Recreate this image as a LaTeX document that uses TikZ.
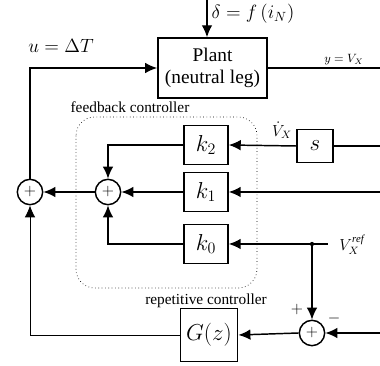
\documentclass[tikz,border=0pt]{standalone}
\usepackage{fontspec}
\setmainfont{Liberation Serif}
\usetikzlibrary{arrows.meta,calc,positioning}

\begin{document}
\begin{tikzpicture}[x=0.75pt, y=-0.75pt, line width=1.1pt, >={Latex[length=9pt,width=8pt]},
    blk/.style={draw,rectangle,line width=1.1pt,inner sep=0pt,font=\LARGE},
    sumc/.style={draw,circle,line width=1.1pt,minimum size=19pt,inner sep=0pt,font=\large},
    lbl/.style={inner sep=1pt}]
  \useasboundingbox (0,0) rectangle (380,366);
  % blocks
  \node[blk,minimum width=82pt,minimum height=45pt,align=center,font=\fontsize{14.5}{16.5}\selectfont] (plant) at (212.5,68) {Plant\\(neutral leg)};
  \node[blk,minimum width=33pt,minimum height=29pt] (k2) at (206,145) {$k_2$};
  \node[blk,minimum width=33pt,minimum height=29pt] (k1) at (206,192) {$k_1$};
  \node[blk,minimum width=33pt,minimum height=29pt] (k0) at (206,244) {$k_0$};
  \node[blk,minimum width=27pt,minimum height=25pt] (s) at (315,146) {$s$};
  \node[blk,minimum width=43pt,minimum height=40pt] (G) at (209,335) {$G(z)$};
  \node[sumc] (sumin) at (108,192) {$+$};
  \node[sumc] (sumout) at (30,192) {$+$};
  \node[sumc] (sumrep) at (312,333) {$+$};
  % ends and corners
  \coordinate (dtop) at (207,0);
  \coordinate (yend) at (380,68);
  \coordinate (vend) at (380,146);
  \coordinate (v1end) at (380,192);
  \coordinate (rend) at (380,333);
  \coordinate (refdot) at (312,244);
  \coordinate (refend) at (328,244);
  % feedback controller box
  \draw[dotted,line width=0.5pt,rounded corners=14pt] (76,117) rectangle (257,288);
  \node[lbl,font=\fontsize{11.5}{13}\selectfont] (fbl) at (130,107) {feedback controller};
  \node[lbl,font=\fontsize{11.5}{13}\selectfont] (rcl) at (206,301) {repetitive controller};
  % labels
  \node[lbl,font=\Large] (dl) at (253,14) {$\delta = f\,(i_N)$};
  \node[lbl,font=\Large] (ul) at (61,46) {$u = \Delta T$};
  \node[lbl,font=\small] (yl) at (344,60) {$y = V_X$};
  \node[lbl,font=\large] (vdl) at (282,130) {$\dot V_X$};
  \node[lbl,font=\large] (refl) at (352,245) {$V_X^{\mathit{ref}}$};
  \node[lbl,font=\large] (pl) at (297,310) {$+$};
  \node[lbl,font=\large] (ml) at (334,319) {$-$};
  % connectors
  \draw[->] (dtop) -- (dtop |- plant.north);
  \draw[->] (sumout.north) |- (plant.west);
  \draw (plant.east) -- (yend);
  \draw (vend) -- (s.east);
  \draw[->] (s.west) -- (k2.east);
  \draw[->] (v1end) -- (k1.east);
  \draw[->] (refend) -- (k0.east);
  \fill (refdot) circle (1.6pt);
  \draw[->] (refdot) -- (sumrep.north);
  \draw[->] (rend) -- (sumrep.east);
  \draw[->] (sumrep.west) -- (G.east);
  \draw[->] (k2.west) -| (sumin.north);
  \draw[->] (k1.west) -- (sumin.east);
  \draw[->] (k0.west) -| (sumin.south);
  \draw[->] (sumin.west) -- (sumout.east);
  \draw[->,line width=0.7pt] (G.west) -| (sumout.south);
\end{tikzpicture}
\end{document}
